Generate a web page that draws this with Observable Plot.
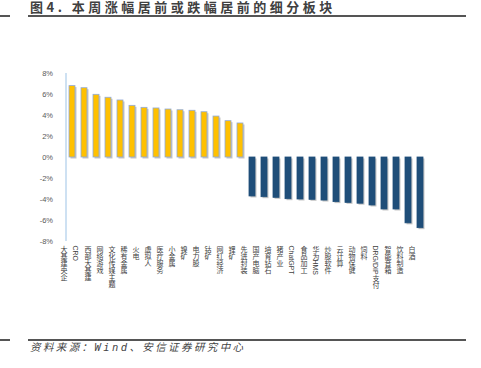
<!DOCTYPE html>
<html>
<head>
<meta charset="utf-8">
<script src="https://cdn.jsdelivr.net/npm/d3@7"></script>
<script src="https://cdn.jsdelivr.net/npm/@observablehq/plot@0.6"></script>
<style>
  html, body { margin: 0; padding: 0; background: #fff; overflow: hidden; }
  #wrap { position: relative; width: 481px; height: 368px; overflow: hidden; font-family: "Liberation Sans", "Noto Sans CJK SC", sans-serif; }
  #title { position: absolute; left: 30px; top: -3px; font-size: 13px; font-weight: bold; color: #404040; letter-spacing: 3.5px; white-space: nowrap; font-family: "Noto Sans CJK SC", sans-serif; }
  #footer { position: absolute; left: 30px; top: 339px; font-size: 10.5px; font-style: italic; color: #444; letter-spacing: 2.4px; white-space: nowrap; font-family: "DejaVu Sans Mono", "Noto Sans CJK SC", monospace; }
  .hl { position: absolute; background: #555; }
  #chart { position: absolute; left: 0; top: 0; }
</style>
</head>
<body>
<div id="wrap">
  <div class="hl" style="left:0;top:14.5px;width:10px;height:2px"></div>
  <div class="hl" style="left:28px;top:14.5px;width:438px;height:2px"></div>
  <div id="title">图4. 本周涨幅居前或跌幅居前的细分板块</div>
  <div id="chart"></div>
  <div class="hl" style="left:0;top:339px;width:10px;height:1.5px"></div>
  <div class="hl" style="left:28px;top:339px;width:438px;height:1.5px"></div>
  <div id="footer">资料来源：Wind、安信证券研究中心</div>
</div>
<script>
const categories = ["大基建央企","CRO","西部大基建","网络游戏","文化传媒主题","稀有金属","火电","虚拟人","医疗服务","小金属","镍矿","电力股","钴矿","网红经济","锂矿",
  "先进封装","国产电脑","培育钻石","猪产业","ChatGPT","食品加工","华为HMS","炒股软件","云计算","动物保健","饲料","DRG/DIP支付","智能音箱","饮料制造","白酒"];
const values = [6.8,6.6,5.97,5.69,5.43,4.92,4.73,4.67,4.57,4.5,4.45,4.31,3.9,3.46,3.24,
  -3.71,-3.78,-3.84,-3.97,-4.0,-4.03,-4.1,-4.25,-4.32,-4.4,-4.57,-4.95,-4.95,-6.27,-6.73];
const yTicks = [-8,-6,-4,-2,0,2,4,6,8];

const data = categories.map((c, i) => ({cat: c, v: values[i]}));

const svg = Plot.plot({
  width: 481,
  height: 368,
  marginTop: 73,
  marginBottom: 127,
  marginLeft: 58.5,
  marginRight: 47,
  style: {fontFamily: '"Liberation Sans", "Noto Sans CJK SC", sans-serif', background: "transparent", overflow: "visible"},
  x: {domain: categories, padding: 0.5, axis: null},
  y: {domain: [-8, 8], axis: null},
  marks: [
    Plot.barY(data, {x: "cat", y: "v", fill: "#7f7f7f", fillOpacity: 0.45, dx: 1.5, dy: 1.5}),
    Plot.barY(data, {x: "cat", y: "v", fill: d => d.v > 0 ? "#FFC000" : "#1F4E79", stroke: d => d.v > 0 ? "#8FAADC" : "#1F4E79", strokeWidth: 0.8}),
    Plot.axisY(yTicks, {tickSize: 0, tickPadding: 6, tickFormat: d => d + "%", fontSize: 7.5, fill: "#595959", label: null}),
    Plot.ruleX([0], {x: () => categories[0], dx: -6.5, y1: -8, y2: 8, stroke: "#9DC3E6", strokeWidth: 1}),
    Plot.text(data, {x: "cat", frameAnchor: "bottom", text: "cat", fontSize: 7, fill: "#404040", dx: -9, dy: 1.7, textAnchor: "start", lineAnchor: "middle"})
  ]
});
d3.select(svg).selectAll('g[aria-label="text"] text').style("writing-mode", "vertical-rl").attr("dy", null);
document.getElementById("chart").appendChild(svg);
</script>
</body>
</html>
